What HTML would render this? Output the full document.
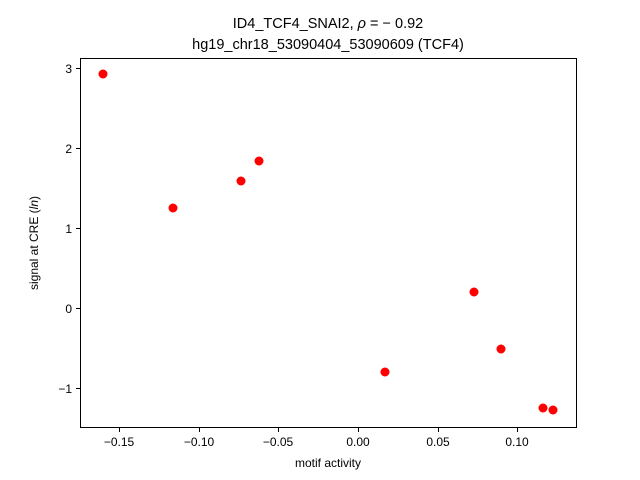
<!DOCTYPE html>
<html><head><style>body{margin:0;background:#fff}svg{display:block}</style></head><body>
<svg width="640" height="480" xmlns="http://www.w3.org/2000/svg" font-family="Liberation Sans, DejaVu Sans, sans-serif">
<rect width="640" height="480" fill="#fff"/>
<text x="328" y="28" font-size="14.5" text-anchor="middle">ID4_TCF4_SNAI2, <tspan font-style="italic">ρ</tspan> = − 0.92</text>
<text x="328" y="49" font-size="14.5" text-anchor="middle">hg19_chr18_53090404_53090609 (TCF4)</text>
<g fill="red">
<circle cx="103" cy="74" r="4.5"/><circle cx="173" cy="208" r="4.5"/><circle cx="241" cy="181" r="4.5"/><circle cx="259" cy="161" r="4.5"/><circle cx="385" cy="372" r="4.5"/><circle cx="474" cy="292" r="4.5"/><circle cx="501" cy="349" r="4.5"/><circle cx="543" cy="408" r="4.5"/><circle cx="553" cy="410" r="4.5"/>
</g>
<rect x="80.5" y="58.5" width="496" height="369" fill="none" stroke="#000" stroke-width="1"/>
<g stroke="#000">
<line x1="119.5" y1="428" x2="119.5" y2="432"/><line x1="199.5" y1="428" x2="199.5" y2="432"/><line x1="278.5" y1="428" x2="278.5" y2="432"/><line x1="358.5" y1="428" x2="358.5" y2="432"/><line x1="438.5" y1="428" x2="438.5" y2="432"/><line x1="517.5" y1="428" x2="517.5" y2="432"/>
<line x1="76" y1="68.5" x2="80" y2="68.5"/><line x1="76" y1="148.5" x2="80" y2="148.5"/><line x1="76" y1="228.5" x2="80" y2="228.5"/><line x1="76" y1="308.5" x2="80" y2="308.5"/><line x1="76" y1="388.5" x2="80" y2="388.5"/>
</g>
<g font-size="12" text-anchor="middle">
<text x="119" y="446">−0.15</text><text x="199" y="446">−0.10</text><text x="278" y="446">−0.05</text><text x="358" y="446">0.00</text><text x="438" y="446">0.05</text><text x="517" y="446">0.10</text>
</g>
<g font-size="12" text-anchor="end">
<text x="72" y="73">3</text><text x="72" y="153">2</text><text x="72" y="233">1</text><text x="72" y="313">0</text><text x="72" y="393">−1</text>
</g>
<text x="328" y="467" font-size="12" text-anchor="middle">motif activity</text>
<text transform="translate(38,243) rotate(-90)" font-size="12" text-anchor="middle">signal at CRE (<tspan font-style="italic">ln</tspan>)</text>
</svg>
</body></html>
